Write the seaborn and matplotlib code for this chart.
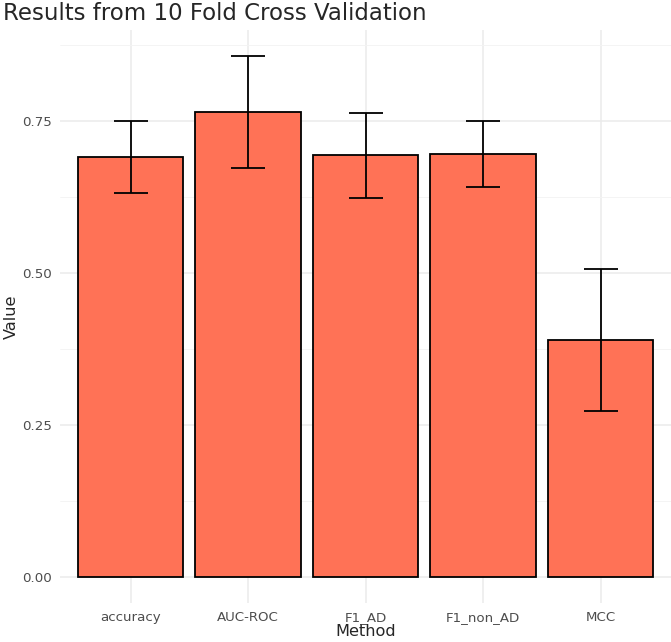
import matplotlib
matplotlib.use("Agg")
import matplotlib.pyplot as plt
import seaborn as sns
import pandas as pd
import numpy as np

# values
methods = ["accuracy", "AUC-ROC", "F1_AD", "F1_non_AD", "MCC"]
means = [0.691, 0.765, 0.694, 0.696, 0.390]
sds = [0.059, 0.092, 0.070, 0.055, 0.117]

df = pd.DataFrame({"Method": methods, "Value": means, "SD": sds})

sns.set_theme(style="white")
plt.rcParams["font.family"] = ["DejaVu Sans"]

fig = plt.figure(figsize=(6.71, 6.42), dpi=100)
ax = fig.add_axes([60 / 671, 39 / 642, 611 / 671, 573 / 642])

sns.barplot(data=df, x="Method", y="Value", color="#FF7256", edgecolor="black",
            linewidth=1.3, width=0.9, errorbar=None, saturation=1, ax=ax, zorder=3)

ax.errorbar(x=np.arange(len(methods)), y=df["Value"], yerr=df["SD"], fmt="none",
            ecolor="black", elinewidth=1.3, capsize=12, capthick=1.3, zorder=4)

ax.set_xlim(-0.6, len(methods) - 0.4)
ax.set_ylim(-0.043, 0.9)
ax.set_yticks([0, 0.25, 0.5, 0.75])
ax.set_yticklabels(["0.00", "0.25", "0.50", "0.75"])
ax.set_yticks([0.125, 0.375, 0.625, 0.875], minor=True)

ax.grid(True, which="major", color="#EBEBEB", linewidth=1.1, zorder=0)
ax.grid(True, which="minor", axis="y", color="#F3F3F3", linewidth=0.6, zorder=0)
ax.set_axisbelow(True)
for s in ax.spines.values():
    s.set_visible(False)

ax.tick_params(axis="both", which="both", length=0, labelsize=9.6, labelcolor="#4D4D4D")
ax.tick_params(axis="x", pad=6)
ax.tick_params(axis="y", pad=6)

ax.set_xlabel("Method", fontsize=11.6, labelpad=0)
ax.set_ylabel("Value", fontsize=11.6, labelpad=2)
fig.text(3 / 671, 1 - 13 / 642, "Results from 10 Fold Cross Validation",
         fontsize=16.5, va="center", ha="left")

fig.savefig("out.png", dpi=100)
